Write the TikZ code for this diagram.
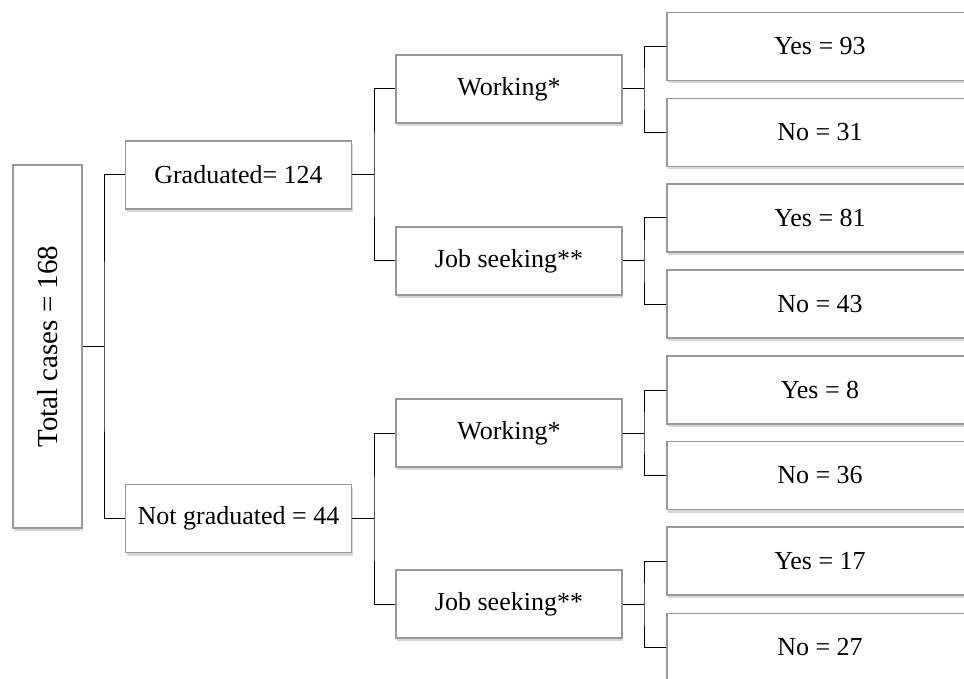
\documentclass[tikz,border=0pt]{standalone}
\usepackage{fontspec}
\setmainfont{Liberation Serif}
\usetikzlibrary{shadows}
\begin{document}
\begin{tikzpicture}[x=1pt,y=-1pt,
  box/.style={draw=black!40, line width=1.2pt, fill=white,
    drop shadow={shadow xshift=1pt,shadow yshift=-3pt,opacity=0.3},
    inner sep=0pt, font=\fontsize{26}{30}\selectfont},
  mid/.style={box, minimum width=226pt, minimum height=68pt},
  leaf/.style={box, minimum width=306pt, minimum height=68pt},
  conn/.style={draw=black, line width=1pt}]
\useasboundingbox (0,0) rectangle (964,679);
\fill[white] (0,0) rectangle (964,679);

\node[box, minimum width=69pt, minimum height=363pt, font=\fontsize{29}{33}\selectfont] (tot) at (47.5,346.5) {\rotatebox{90}{Total cases = 168}};

\node[mid] (grad)  at (238.5,175) {Graduated= 124};
\node[mid] (ngrad) at (238.5,518.5) {Not graduated = 44};

\node[mid] (w1) at (509,89)  {Working*};
\node[mid] (j1) at (509,261) {Job seeking**};
\node[mid] (w2) at (509,433) {Working*};
\node[mid] (j2) at (509,604) {Job seeking**};

\node[leaf] (l1) at (820,46.5)  {Yes = 93};
\node[leaf] (l2) at (820,132.5) {No = 31};
\node[leaf] (l3) at (820,218)   {Yes = 81};
\node[leaf] (l4) at (820,304)   {No = 43};
\node[leaf] (l5) at (820,390)   {Yes = 8};
\node[leaf] (l6) at (820,475.5) {No = 36};
\node[leaf] (l7) at (820,561)   {Yes = 17};
\node[leaf] (l8) at (820,647.5) {No = 27};

\coordinate (b0) at (104,346.5);
\coordinate (b1) at (374,175);
\coordinate (b2) at (374,518.5);
\coordinate (c1) at (644,89);
\coordinate (c2) at (644,261);
\coordinate (c3) at (644,433);
\coordinate (c4) at (644,604);

\draw[conn] (tot.east) -- (b0);
\draw[conn] (grad.west) -| (b0) |- (ngrad.west);
\draw[conn] (grad.east) -- (b1);
\draw[conn] (w1.west) -| (b1) |- (j1.west);
\draw[conn] (ngrad.east) -- (b2);
\draw[conn] (w2.west) -| (b2) |- (j2.west);

\draw[conn] (w1.east) -- (c1);
\draw[conn] (l1.west) -| (c1) |- (l2.west);
\draw[conn] (j1.east) -- (c2);
\draw[conn] (l3.west) -| (c2) |- (l4.west);
\draw[conn] (w2.east) -- (c3);
\draw[conn] (l5.west) -| (c3) |- (l6.west);
\draw[conn] (j2.east) -- (c4);
\draw[conn] (l7.west) -| (c4) |- (l8.west);
\end{tikzpicture}
\end{document}
